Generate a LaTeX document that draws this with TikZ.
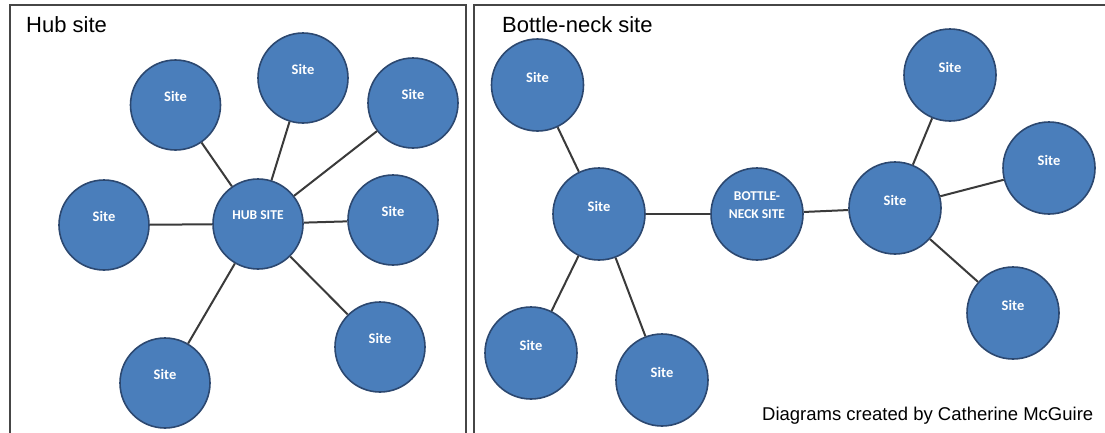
\documentclass[tikz,border=0pt]{standalone}
\usepackage{fontspec}
\setmainfont{Liberation Sans}
\newfontfamily\carlitofont{Carlito}
\definecolor{siteblue}{RGB}{74,126,187}
\definecolor{siteedge}{RGB}{44,72,112}
\definecolor{linegray}{RGB}{58,58,58}
\definecolor{framegray}{RGB}{70,70,70}
\tikzset{
  site/.style={circle, fill=siteblue, draw=siteedge, line width=1.6pt, minimum size=#1, inner sep=0pt},
  site/.default=90pt,
  sitel/.style={font=\carlitofont\bfseries\fontsize{14.5}{16}\selectfont, text=white, inner sep=0pt},
  capl/.style={font=\carlitofont\bfseries\fontsize{13.5}{18}\selectfont, text=white, inner sep=0pt, align=center},
  link/.style={draw=linegray, line width=2pt},
  framel/.style={draw=framegray, line width=1.5pt},
  title/.style={font=\fontsize{22}{26}\selectfont, anchor=base west, inner sep=0pt},
}
\begin{document}
\begin{tikzpicture}[x=1pt,y=-1pt]
\useasboundingbox[fill=white] (0,0) rectangle (1105,432);
% frames
\draw[framel] (10,436) -- (10,5) -- (466,5) -- (466,436);
\draw[framel] (474,436) -- (474,5) -- (1108,5);
% titles
\node[title] (t1) at (26,32) {Hub site};
\node[title] (t2) at (502,32) {Bottle-neck site};
\node[anchor=base west, inner sep=0pt, font=\fontsize{18.5}{22}\selectfont] (credit) at (762,420) {Diagrams created by Catherine McGuire};
% hub diagram
\node[site, label={[capl, yshift=9pt]center:HUB SITE}] (hub) at (258,224) {};
\node[site, label={[sitel, yshift=9pt]center:Site}] (h1) at (175.5,105) {};
\node[site, label={[sitel, yshift=9pt]center:Site}] (h2) at (303,78) {};
\node[site, label={[sitel, yshift=9pt]center:Site}] (h3) at (413,103) {};
\node[site, label={[sitel, yshift=9pt]center:Site}] (h4) at (104,225) {};
\node[site, label={[sitel, yshift=9pt]center:Site}] (h5) at (393,220) {};
\node[site, label={[sitel, yshift=9pt]center:Site}] (h6) at (380,347) {};
\node[site, label={[sitel, yshift=9pt]center:Site}] (h7) at (165,383) {};
\foreach \n in {h1,h2,h3,h4,h5,h6,h7} \draw[link] (hub) -- (\n);
% bottle-neck diagram
\node[site=92pt, label={[capl, yshift=9pt]center:BOTTLE-\\NECK SITE}] (bn) at (757,214) {};
\node[site=92pt, label={[sitel, yshift=8pt]center:Site}] (lh) at (599,214) {};
\node[site=92pt, label={[sitel, yshift=8pt]center:Site}] (rh) at (895,208) {};
\node[site=92pt, label={[sitel, yshift=8pt]center:Site}] (b1) at (537.5,85) {};
\node[site=92pt, label={[sitel, yshift=8pt]center:Site}] (b2) at (531,353) {};
\node[site=92pt, label={[sitel, yshift=8pt]center:Site}] (b3) at (662,380) {};
\node[site=92pt, label={[sitel, yshift=8pt]center:Site}] (b4) at (950,75) {};
\node[site=92pt, label={[sitel, yshift=8pt]center:Site}] (b5) at (1049,168) {};
\node[site=92pt, label={[sitel, yshift=8pt]center:Site}] (b6) at (1013,313) {};
\draw[link] (lh) -- (bn);
\draw[link] (bn) -- (rh);
\foreach \n in {b1,b2,b3} \draw[link] (lh) -- (\n);
\foreach \n in {b4,b5,b6} \draw[link] (rh) -- (\n);
\end{tikzpicture}
\end{document}
